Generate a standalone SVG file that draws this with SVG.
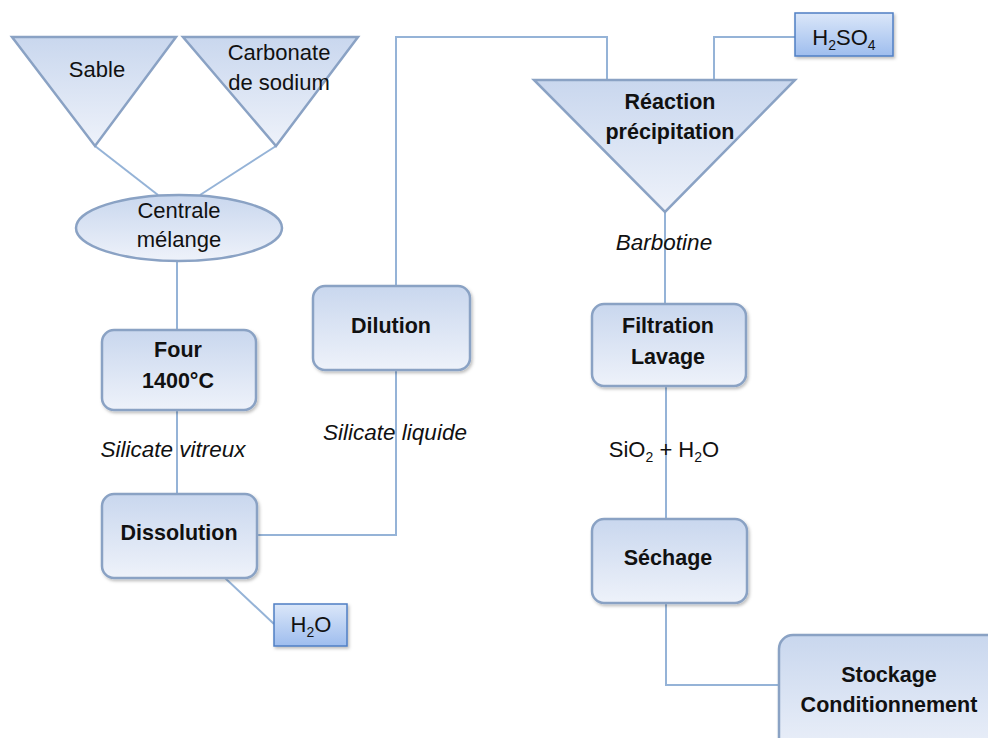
<svg xmlns="http://www.w3.org/2000/svg" width="988" height="738" viewBox="0 0 988 738">
<defs>
<linearGradient id="gNode" x1="0" y1="0" x2="0" y2="1">
<stop offset="0" stop-color="#c9d7ee"/>
<stop offset="1" stop-color="#eef2fa"/>
</linearGradient>
<linearGradient id="gSmall" x1="0" y1="0" x2="0" y2="1">
<stop offset="0" stop-color="#dbe7f9"/>
<stop offset="1" stop-color="#9ebdee"/>
</linearGradient>
<filter id="sh" x="-10%" y="-10%" width="130%" height="130%">
<feDropShadow dx="1.5" dy="2" stdDeviation="1.5" flood-color="#000" flood-opacity="0.25"/>
</filter>
<style>
.n{fill:url(#gNode);stroke:#8aa2c4;stroke-width:2.5}
.s{fill:url(#gSmall);stroke:#4f7fc4;stroke-width:1.5}
.c{fill:none;stroke:#95b3d7;stroke-width:2}
text{font-family:"Liberation Sans",Arial,sans-serif;fill:#111;text-anchor:middle}
.t{font-size:22px}
.b{font-size:21.5px;font-weight:bold}
.i{font-size:22.5px;font-style:italic}
</style>
</defs>
<g id="connectors">
<polyline class="c" points="95,146 158,195"/>
<polyline class="c" points="276,146 200,195"/>
<polyline class="c" points="177,261 177,330"/>
<polyline class="c" points="177,410 177,494"/>
<polyline class="c" points="257,535 396,535 396,370"/>
<polyline class="c" points="225,578 274,624"/>
<polyline class="c" points="396,286 396,37 607,37 607,80"/>
<polyline class="c" points="714,80 714,37 795,37"/>
<polyline class="c" points="665,212 665,304"/>
<polyline class="c" points="666,386 666,519"/>
<polyline class="c" points="666,603 666,685 779,685"/>
</g>
<g id="sable">
<polygon class="n" points="12,37 176,37 95,146"/>
<text class="t" x="97" y="77">Sable</text>
</g>
<g id="carbonate">
<polygon class="n" points="183,37 358,37 276,146"/>
<text class="t" x="279" y="60">Carbonate</text>
<text class="t" x="279" y="90">de sodium</text>
</g>
<g id="centrale">
<ellipse class="n" cx="179" cy="228" rx="103" ry="33"/>
<text class="t" x="179" y="218">Centrale</text>
<text class="t" x="179" y="247">mélange</text>
</g>
<g id="four">
<rect class="n" x="102" y="330" width="154" height="80" rx="12" filter="url(#sh)"/>
<text class="b" x="178" y="357">Four</text>
<text class="b" x="178" y="388">1400°C</text>
</g>
<text class="i" x="173" y="457">Silicate vitreux</text>
<g id="dissolution">
<rect class="n" x="102" y="494" width="155" height="84" rx="12" filter="url(#sh)"/>
<text class="b" x="179" y="540">Dissolution</text>
</g>
<g id="h2o">
<rect class="s" x="274" y="604" width="73" height="42" filter="url(#sh)"/>
<text class="t" x="311" y="632">H<tspan font-size="14" dy="5">2</tspan><tspan dy="-5">O</tspan></text>
</g>
<g id="dilution">
<rect class="n" x="313" y="286" width="157" height="84" rx="12" filter="url(#sh)"/>
<text class="b" x="391" y="333">Dilution</text>
</g>
<text class="i" x="395" y="440">Silicate liquide</text>
<g id="reaction">
<polygon class="n" points="534,80 795,80 665,212"/>
<text class="b" x="670" y="109">Réaction</text>
<text class="b" x="670" y="139">précipitation</text>
</g>
<g id="h2so4">
<rect class="s" x="795" y="13" width="98" height="43" filter="url(#sh)"/>
<text class="t" x="844" y="45">H<tspan font-size="14" dy="5">2</tspan><tspan dy="-5">SO</tspan><tspan font-size="14" dy="5">4</tspan></text>
</g>
<text class="i" x="664" y="250">Barbotine</text>
<g id="filtration">
<rect class="n" x="592" y="304" width="154" height="82" rx="12" filter="url(#sh)"/>
<text class="b" x="668" y="333">Filtration</text>
<text class="b" x="668" y="364">Lavage</text>
</g>
<text class="t" x="664" y="457">SiO<tspan font-size="14" dy="5">2</tspan><tspan dy="-5"> + H</tspan><tspan font-size="14" dy="5">2</tspan><tspan dy="-5">O</tspan></text>
<g id="sechage">
<rect class="n" x="592" y="519" width="155" height="84" rx="12" filter="url(#sh)"/>
<text class="b" x="668" y="565">Séchage</text>
</g>
<g id="stockage">
<rect class="n" x="779" y="635" width="230" height="130" rx="14" filter="url(#sh)"/>
<text class="b" x="889" y="682">Stockage</text>
<text class="b" x="889" y="712">Conditionnement</text>
</g>
</svg>
